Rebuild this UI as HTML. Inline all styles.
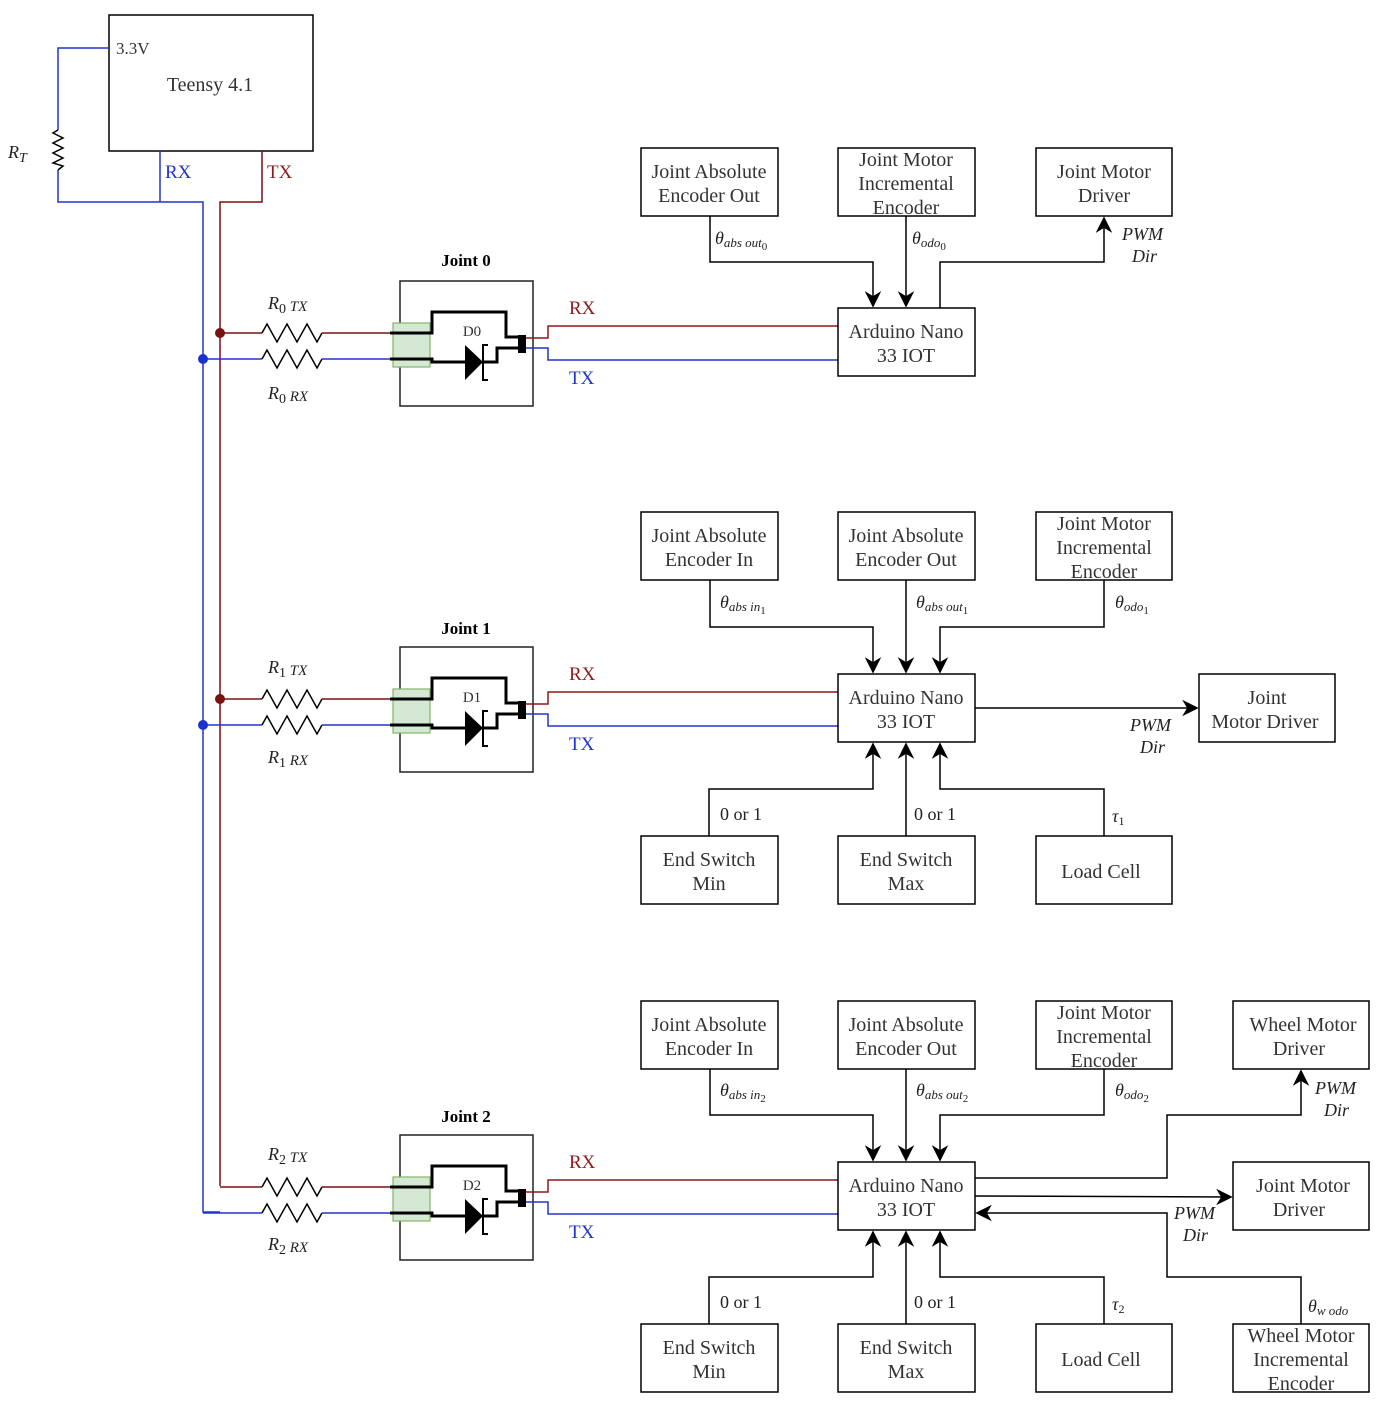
<!DOCTYPE html>
<html><head><meta charset="utf-8"><style>
html,body{margin:0;padding:0;background:#fff;}
svg{display:block;font-family:"Liberation Serif",serif;}
.b{fill:#fff;stroke:#000;stroke-width:1.5}
.t{font-size:20px;fill:#333;text-anchor:middle}
.w{fill:none;stroke:#000;stroke-width:1.5}
.m{font-size:18px;font-style:italic;fill:#222}
</style></head><body>
<svg width="1386" height="1404" viewBox="0 0 1386 1404" xmlns="http://www.w3.org/2000/svg">
<defs>
<marker id="a" viewBox="0 0 10 10" refX="9" refY="5" markerWidth="11" markerHeight="11" orient="auto-start-reverse"><path d="M0 0 L10 5 L0 10 L3 5 Z" fill="#000"/></marker>
<path id="res" d="M0 0 L5 -9 L15 9 L25 -9 L35 9 L45 -9 L55 9 L60 0" fill="none" stroke="#000" stroke-width="1.5"/>
<g id="joint">
<line x1="220" y1="333" x2="262" y2="333" stroke="#7a1010" stroke-width="1.5"/>
<use href="#res" x="262" y="333"/>
<line x1="322" y1="333" x2="392" y2="333" stroke="#7a1010" stroke-width="1.5"/>
<line x1="203" y1="359" x2="262" y2="359" stroke="#2233cc" stroke-width="1.5"/>
<use href="#res" x="262" y="359"/>
<line x1="322" y1="359" x2="392" y2="359" stroke="#2233cc" stroke-width="1.5"/>
<rect x="400" y="281" width="133" height="125" fill="none" stroke="#222" stroke-width="1.5"/>
<rect x="393" y="323" width="37" height="44" fill="#d5e8d4" stroke="#82b366" stroke-width="1.2"/>
<path d="M390 333 L432 333 L432 312 L506 312 L506 337 L518 337" fill="none" stroke="#000" stroke-width="3"/>
<path d="M390 359 L432 359 L432 362 L465 362 M483 362 L497 362 L497 348 L518 348" fill="none" stroke="#000" stroke-width="3"/>
<path d="M465 345 L483 362 L465 380 Z" fill="#000"/>
<path d="M488 345 L483 345 L483 380 L488 380" fill="none" stroke="#000" stroke-width="2"/>
<rect x="518" y="335" width="8" height="18" fill="#000"/>
<path d="M526 338 L548 338 L548 326 L838 326" fill="none" stroke="#8b1a1a" stroke-width="1.5"/>
<path d="M526 348 L548 348 L548 360 L838 360" fill="none" stroke="#2233cc" stroke-width="1.5"/>
<text x="569" y="314" font-size="19" fill="#8b1a1a">RX</text>
<text x="569" y="384" font-size="19" fill="#2233cc">TX</text>
</g>
</defs>

<rect x="109" y="15" width="204" height="136" class="b"/>
<text x="116" y="54" font-size="17" fill="#333">3.3V</text>
<text x="210" y="91" class="t">Teensy 4.1</text>
<path d="M109 48 L58 48 L58 130 M58 170 L58 202 L203 202 L203 1212 L220 1212" fill="none" stroke="#2233cc" stroke-width="1.5"/>
<path d="M58 130 L53 133 L63 138 L53 143 L63 148 L53 153 L63 158 L53 163 L63 166 L58 170" fill="none" stroke="#000" stroke-width="1.5"/>
<line x1="160" y1="151" x2="160" y2="202" stroke="#2233cc" stroke-width="1.5"/>
<path d="M262 151 L262 202 L220 202 L220 1186" fill="none" stroke="#7a1010" stroke-width="1.5"/>
<text x="165" y="178" font-size="19" fill="#2233cc">RX</text>
<text x="267" y="178" font-size="19" fill="#8b1a1a">TX</text>
<text x="8" y="158" class="m" font-size="21">R<tspan font-size="14" dy="4">T</tspan></text>

<use href="#joint"/>
<use href="#joint" y="366"/>
<use href="#joint" y="854"/>
<circle cx="220" cy="333" r="5" fill="#7a1010"/><circle cx="203" cy="359" r="5" fill="#1a33cc"/>
<circle cx="220" cy="699" r="5" fill="#7a1010"/><circle cx="203" cy="725" r="5" fill="#1a33cc"/>
<g font-weight="bold" font-size="17" fill="#000" text-anchor="middle">
<text x="466" y="266">Joint 0</text><text x="466" y="634">Joint 1</text><text x="466" y="1122">Joint 2</text></g>
<g font-size="15" fill="#333" text-anchor="middle"><text x="472" y="336">D0</text><text x="472" y="702">D1</text><text x="472" y="1190">D2</text></g>
<g class="m" font-size="21">
<text x="268" y="309">R<tspan font-size="14" dy="4" font-style="normal">0</tspan><tspan font-size="15" dy="-2"> TX</tspan></text>
<text x="268" y="399">R<tspan font-size="14" dy="4" font-style="normal">0</tspan><tspan font-size="15" dy="-2"> RX</tspan></text>
<text x="268" y="673">R<tspan font-size="14" dy="4" font-style="normal">1</tspan><tspan font-size="15" dy="-2"> TX</tspan></text>
<text x="268" y="763">R<tspan font-size="14" dy="4" font-style="normal">1</tspan><tspan font-size="15" dy="-2"> RX</tspan></text>
<text x="268" y="1160">R<tspan font-size="14" dy="4" font-style="normal">2</tspan><tspan font-size="15" dy="-2"> TX</tspan></text>
<text x="268" y="1250">R<tspan font-size="14" dy="4" font-style="normal">2</tspan><tspan font-size="15" dy="-2"> RX</tspan></text>
</g>

<rect x="641" y="148" width="137" height="68" class="b"/><text x="709" y="178" class="t">Joint Absolute</text><text x="709" y="202" class="t">Encoder Out</text>
<rect x="838" y="148" width="137" height="68" class="b"/><text x="906" y="166" class="t">Joint Motor</text><text x="906" y="190" class="t">Incremental</text><text x="906" y="214" class="t">Encoder</text>
<rect x="1036" y="148" width="136" height="68" class="b"/><text x="1104" y="178" class="t">Joint Motor</text><text x="1104" y="202" class="t">Driver</text>
<rect x="838" y="308" width="137" height="68" class="b"/><text x="906" y="338" class="t">Arduino Nano</text><text x="906" y="362" class="t">33 IOT</text>
<path class="w" d="M710 216 L710 262 L873 262 L873 306" marker-end="url(#a)"/>
<path class="w" d="M906 216 L906 306" marker-end="url(#a)"/>
<path class="w" d="M940 308 L940 262 L1104 262 L1104 218" marker-end="url(#a)"/>
<text x="715" y="244" class="m">θ<tspan font-size="13" dy="3">abs out</tspan><tspan font-size="11" dy="3" font-style="normal">0</tspan></text>
<text x="912" y="244" class="m">θ<tspan font-size="13" dy="3">odo</tspan><tspan font-size="11" dy="3" font-style="normal">0</tspan></text>
<text x="1122" y="240" class="m">PWM</text><text x="1132" y="262" class="m">Dir</text>

<rect x="641" y="512" width="137" height="68" class="b"/><text x="709" y="542" class="t">Joint Absolute</text><text x="709" y="566" class="t">Encoder In</text>
<rect x="838" y="512" width="137" height="68" class="b"/><text x="906" y="542" class="t">Joint Absolute</text><text x="906" y="566" class="t">Encoder Out</text>
<rect x="1036" y="512" width="136" height="68" class="b"/><text x="1104" y="530" class="t">Joint Motor</text><text x="1104" y="554" class="t">Incremental</text><text x="1104" y="578" class="t">Encoder</text>
<rect x="838" y="674" width="137" height="68" class="b"/><text x="906" y="704" class="t">Arduino Nano</text><text x="906" y="728" class="t">33 IOT</text>
<rect x="1199" y="674" width="136" height="68" class="b"/><text x="1267" y="704" class="t">Joint</text><text x="1265" y="728" class="t">Motor Driver</text>
<rect x="641" y="836" width="137" height="68" class="b"/><text x="709" y="866" class="t">End Switch</text><text x="709" y="890" class="t">Min</text>
<rect x="838" y="836" width="137" height="68" class="b"/><text x="906" y="866" class="t">End Switch</text><text x="906" y="890" class="t">Max</text>
<rect x="1036" y="836" width="136" height="68" class="b"/><text x="1101" y="878" class="t">Load Cell</text>
<path class="w" d="M710 580 L710 627 L873 627 L873 672" marker-end="url(#a)"/>
<path class="w" d="M906 580 L906 672" marker-end="url(#a)"/>
<path class="w" d="M1104 580 L1104 627 L940 627 L940 672" marker-end="url(#a)"/>
<path class="w" d="M975 708 L1197 708" marker-end="url(#a)"/>
<path class="w" d="M709 836 L709 789 L873 789 L873 744" marker-end="url(#a)"/>
<path class="w" d="M906 836 L906 744" marker-end="url(#a)"/>
<path class="w" d="M1104 836 L1104 789 L940 789 L940 744" marker-end="url(#a)"/>
<text x="720" y="608" class="m">θ<tspan font-size="13" dy="3">abs in</tspan><tspan font-size="11" dy="3" font-style="normal">1</tspan></text>
<text x="916" y="608" class="m">θ<tspan font-size="13" dy="3">abs out</tspan><tspan font-size="11" dy="3" font-style="normal">1</tspan></text>
<text x="1115" y="608" class="m">θ<tspan font-size="13" dy="3">odo</tspan><tspan font-size="11" dy="3" font-style="normal">1</tspan></text>
<text x="1130" y="731" class="m">PWM</text><text x="1140" y="753" class="m">Dir</text>
<text x="720" y="820" font-size="18" fill="#222">0 or 1</text>
<text x="914" y="820" font-size="18" fill="#222">0 or 1</text>
<text x="1112" y="822" class="m">τ<tspan font-size="12" dy="3" font-style="normal">1</tspan></text>

<rect x="641" y="1001" width="137" height="68" class="b"/><text x="709" y="1031" class="t">Joint Absolute</text><text x="709" y="1055" class="t">Encoder In</text>
<rect x="838" y="1001" width="137" height="68" class="b"/><text x="906" y="1031" class="t">Joint Absolute</text><text x="906" y="1055" class="t">Encoder Out</text>
<rect x="1036" y="1001" width="136" height="68" class="b"/><text x="1104" y="1019" class="t">Joint Motor</text><text x="1104" y="1043" class="t">Incremental</text><text x="1104" y="1067" class="t">Encoder</text>
<rect x="1233" y="1001" width="136" height="68" class="b"/><text x="1303" y="1031" class="t">Wheel Motor</text><text x="1299" y="1055" class="t">Driver</text>
<rect x="838" y="1162" width="137" height="68" class="b"/><text x="906" y="1192" class="t">Arduino Nano</text><text x="906" y="1216" class="t">33 IOT</text>
<rect x="1233" y="1162" width="136" height="68" class="b"/><text x="1303" y="1192" class="t">Joint Motor</text><text x="1299" y="1216" class="t">Driver</text>
<rect x="641" y="1324" width="137" height="68" class="b"/><text x="709" y="1354" class="t">End Switch</text><text x="709" y="1378" class="t">Min</text>
<rect x="838" y="1324" width="137" height="68" class="b"/><text x="906" y="1354" class="t">End Switch</text><text x="906" y="1378" class="t">Max</text>
<rect x="1036" y="1324" width="136" height="68" class="b"/><text x="1101" y="1366" class="t">Load Cell</text>
<rect x="1233" y="1324" width="136" height="68" class="b"/><text x="1301" y="1342" class="t">Wheel Motor</text><text x="1301" y="1366" class="t">Incremental</text><text x="1301" y="1390" class="t">Encoder</text>
<path class="w" d="M710 1069 L710 1115 L873 1115 L873 1160" marker-end="url(#a)"/>
<path class="w" d="M906 1069 L906 1160" marker-end="url(#a)"/>
<path class="w" d="M1104 1069 L1104 1115 L940 1115 L940 1160" marker-end="url(#a)"/>
<path class="w" d="M975 1178 L1167 1178 L1167 1115 L1301 1115 L1301 1071" marker-end="url(#a)"/>
<path class="w" d="M975 1196 L1231 1197" marker-end="url(#a)"/>
<path class="w" d="M1301 1324 L1301 1277 L1167 1277 L1167 1213 L977 1213" marker-end="url(#a)"/>
<path class="w" d="M709 1324 L709 1277 L873 1277 L873 1232" marker-end="url(#a)"/>
<path class="w" d="M906 1324 L906 1232" marker-end="url(#a)"/>
<path class="w" d="M1104 1324 L1104 1277 L940 1277 L940 1232" marker-end="url(#a)"/>
<text x="720" y="1096" class="m">θ<tspan font-size="13" dy="3">abs in</tspan><tspan font-size="11" dy="3" font-style="normal">2</tspan></text>
<text x="916" y="1096" class="m">θ<tspan font-size="13" dy="3">abs out</tspan><tspan font-size="11" dy="3" font-style="normal">2</tspan></text>
<text x="1115" y="1096" class="m">θ<tspan font-size="13" dy="3">odo</tspan><tspan font-size="11" dy="3" font-style="normal">2</tspan></text>
<text x="1315" y="1094" class="m">PWM</text><text x="1324" y="1116" class="m">Dir</text>
<text x="1174" y="1219" class="m">PWM</text><text x="1183" y="1241" class="m">Dir</text>
<text x="720" y="1308" font-size="18" fill="#222">0 or 1</text>
<text x="914" y="1308" font-size="18" fill="#222">0 or 1</text>
<text x="1112" y="1310" class="m">τ<tspan font-size="12" dy="3" font-style="normal">2</tspan></text>
<text x="1308" y="1312" class="m">θ<tspan font-size="13" dy="3">w odo</tspan></text>
</svg>
</body></html>
